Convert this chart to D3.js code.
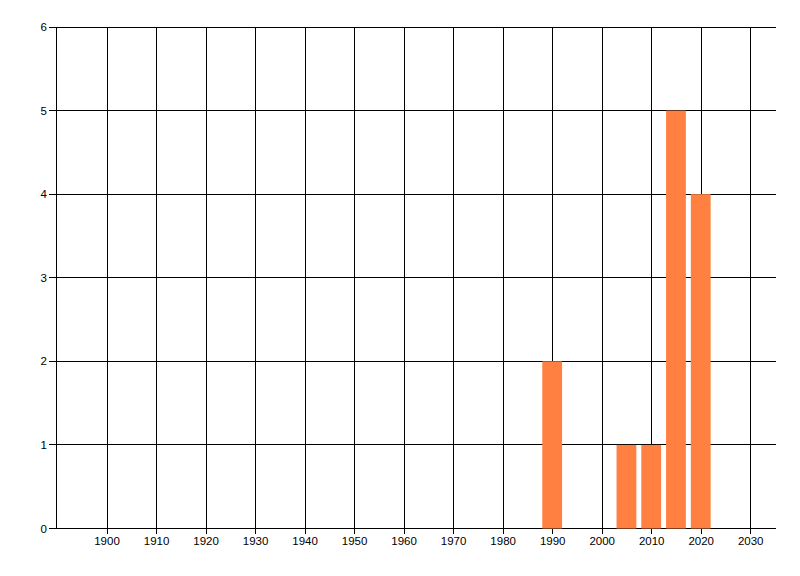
<!DOCTYPE html>
<html><head><meta charset="utf-8">
<script src="https://cdn.jsdelivr.net/npm/d3@7"></script>
<style>body{margin:0;background:#fff}svg{display:block}text{font-family:"Liberation Sans",Arial,sans-serif;font-size:11.5px;fill:#000}</style>
</head><body><svg id="c" width="800" height="576"></svg>
<script>
const years = [1990, 2005, 2010, 2015, 2020];
const counts = [2, 1, 1, 5, 4];
const xTicks = [1900,1910,1920,1930,1940,1950,1960,1970,1980,1990,2000,2010,2020,2030];
const yTicks = [0,1,2,3,4,5,6];

const svg = d3.select("#c");
const x = d3.scaleLinear().domain([1890, 2035]).range([57, 775]);
const y = d3.scaleLinear().domain([0, 6]).range([528, 26.5]);
const px = v => Math.round(v) + 0.5;

// horizontal grid + y ticks
svg.append("g").selectAll("line").data(yTicks).join("line")
  .attr("x1", 49).attr("x2", 776)
  .attr("y1", d => px(y(d))).attr("y2", d => px(y(d)))
  .attr("stroke", "#000").attr("shape-rendering","crispEdges");
// vertical grid + x ticks
svg.append("g").selectAll("line").data(xTicks).join("line")
  .attr("x1", d => px(x(d))).attr("x2", d => px(x(d)))
  .attr("y1", px(y(6))).attr("y2", 534)
  .attr("stroke", "#000").attr("shape-rendering","crispEdges");
// y axis line
svg.append("line").attr("x1", px(57)-1).attr("x2", px(57)-1)
  .attr("y1", px(y(6))).attr("y2", px(y(0)))
  .attr("stroke", "#000").attr("shape-rendering","crispEdges");

// bars
svg.append("g").selectAll("rect").data(years).join("rect")
  .attr("x", d => x(d - 2)).attr("width", d => x(d + 2) - x(d - 2))
  .attr("y", (d, i) => y(counts[i]) + 0.5)
  .attr("height", (d, i) => y(0) - y(counts[i]))
  .attr("fill", "#FF8040");

// labels
svg.append("g").selectAll("text").data(xTicks).join("text")
  .attr("x", d => x(d) + 0.5).attr("y", 545)
  .attr("text-anchor", "middle").text(d => d);
svg.append("g").selectAll("text").data(yTicks).join("text")
  .attr("x", 47).attr("y", d => y(d) + 4.5)
  .attr("text-anchor", "end").text(d => d);
</script></body></html>
